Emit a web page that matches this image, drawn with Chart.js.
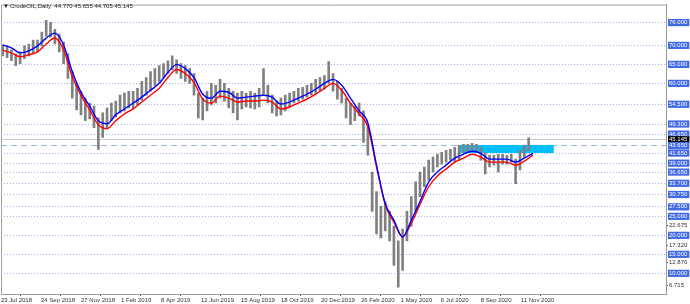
<!DOCTYPE html>
<html>
<head>
<meta charset="utf-8">
<script src="https://cdn.jsdelivr.net/npm/chart.js@4.4.1/dist/chart.umd.min.js"></script>
<style>
  html, body { margin: 0; padding: 0; background: #fff; }
  #wrap { width: 690px; height: 304px; }
</style>
</head>
<body>
<div id="wrap"><canvas id="myChart" width="690" height="304"></canvas></div>
<script>
const symbolName = "CrudeOIL,Daily";
const lastOHLC = [44.770, 45.655, 44.705, 45.145];

// date axis: label text and the trading-day index it sits on
const dateLabels = ["23 Jul 2018", "24 Sep 2018", "27 Nov 2018", "1 Feb 2019", "8 Apr 2019",
  "12 Jun 2019", "15 Aug 2019", "18 Oct 2019", "20 Dec 2019", "26 Feb 2020",
  "1 May 2020", "6 Jul 2020", "8 Sep 2020", "11 Nov 2020"];
const dateTickBars = [0, 46, 92, 138, 184, 230, 276, 322, 368, 414, 460, 506, 552, 598];

// weekly high / low (one entry per 5 trading days)
const weeklyHigh = [
  70.11, 69.85, 68.81, 67.77, 68.29, 69.85, 70.36, 71.40, 71.40, 73.47,
  76.58, 76.06, 74.25, 72.95, 70.88, 67.77, 63.11, 60.00, 57.93, 56.11,
  54.82, 54.04, 50.93, 52.23, 53.52, 54.82, 55.34, 56.89, 57.41, 57.93,
  57.93, 58.70, 60.52, 61.55, 63.11, 63.89, 64.66, 65.18, 65.96, 67.25,
  66.22, 65.18, 64.66, 63.89, 62.59, 57.41, 56.11, 57.93, 60.00, 59.48,
  61.04, 60.00, 58.70, 57.93, 57.41, 57.93, 57.41, 57.93, 57.41, 58.70,
  63.89, 59.48, 56.89, 55.34, 56.11, 56.89, 57.41, 57.93, 58.70, 58.96,
  59.48, 60.00, 61.04, 61.55, 62.07, 65.70, 62.59, 60.52, 58.70, 56.11,
  54.82, 54.04, 54.82, 52.74, 48.34, 36.68, 31.50, 27.61, 28.91, 26.32,
  22.43, 18.55, 21.65, 26.32, 30.20, 34.09, 36.68, 37.98, 39.79, 40.57,
  41.34, 41.86, 42.38, 42.64, 43.16, 43.68, 43.94, 43.94, 44.19, 43.94,
  43.16, 41.86, 41.09, 41.09, 41.34, 41.34, 41.09, 41.34, 40.05, 42.38,
  43.68, 45.66
];
const weeklyLow = [
  67.25, 66.74, 65.96, 64.66, 65.18, 66.48, 67.25, 67.77, 68.29, 69.85,
  72.44, 72.18, 70.36, 68.29, 65.18, 61.30, 56.11, 53.00, 51.71, 50.15,
  50.67, 48.34, 42.64, 45.75, 48.34, 50.15, 51.19, 52.23, 52.74, 53.52,
  53.26, 54.30, 55.60, 56.89, 57.93, 59.48, 60.52, 61.55, 62.59, 63.63,
  62.59, 61.30, 60.52, 60.00, 56.89, 50.93, 50.41, 52.74, 54.30, 54.82,
  56.11, 55.34, 53.52, 52.23, 50.41, 53.26, 53.78, 53.52, 53.26, 53.78,
  56.89, 54.82, 52.23, 51.45, 51.71, 52.74, 53.78, 54.82, 55.34, 55.85,
  56.37, 56.89, 57.41, 57.93, 58.45, 60.00, 57.93, 55.85, 54.82, 50.93,
  49.12, 50.15, 51.45, 44.45, 41.09, 26.32, 20.36, 19.32, 21.14, 18.55,
  12.07, 6.36, 10.77, 18.55, 22.43, 26.32, 30.20, 32.79, 34.61, 36.68,
  37.98, 38.75, 39.27, 39.79, 39.27, 39.79, 41.86, 41.86, 42.38, 41.86,
  39.79, 36.16, 37.98, 38.49, 36.68, 38.75, 38.75, 39.27, 33.57, 37.20,
  40.57, 42.38
];

// moving averages, one value every 2 weeks
const maHigh = [
  70.11, 69.33, 68.03, 68.55, 69.85, 71.92, 73.21, 70.11, 63.11, 57.67,
  54.04, 50.15, 49.38, 51.71, 53.26, 54.82, 56.37, 58.19, 60.00, 62.85,
  64.92, 63.89, 61.55, 57.15, 56.11, 57.93, 57.67, 56.11, 56.37, 56.63,
  56.89, 56.37, 54.56, 55.08, 56.11, 57.15, 58.45, 60.00, 61.04, 59.48,
  56.11, 52.74, 49.64, 38.49, 28.39, 23.99, 19.58, 23.99, 28.91, 34.09,
  36.68, 38.49, 40.31, 41.34, 42.12, 41.60, 40.05, 40.05, 40.05, 39.27,
  40.31, 41.60
];
const maLow = [
  68.68, 68.03, 67.00, 67.51, 68.29, 70.36, 71.92, 68.81, 61.81, 56.89,
  53.00, 49.12, 48.08, 50.15, 51.97, 53.26, 55.08, 56.89, 58.70, 61.55,
  63.63, 62.59, 60.26, 55.85, 54.82, 56.63, 56.11, 55.08, 55.34, 55.34,
  55.60, 55.08, 53.26, 53.78, 54.82, 55.85, 57.15, 58.70, 60.00, 58.19,
  54.82, 51.97, 48.60, 37.98, 28.13, 23.47, 19.58, 23.21, 28.13, 32.79,
  35.64, 37.46, 39.27, 40.31, 41.34, 40.57, 39.27, 39.27, 39.27, 38.49,
  39.53, 41.10
];

// price axis
const levels = [76, 70, 65, 60, 54.5, 49.3, 46.65, 43.65, 41.65, 39, 36.65, 33.7,
  30.75, 27.5, 25, 20, 15, 10];
const scaleMarks = [22.675, 17.32, 12.87, 6.715];
const currentPrice = 45.145;
const dashedLevel = 43.65;
const zoneBars = [526, 636];
const zoneRange = [41.65, 43.65];

const axisTicks = levels.concat(scaleMarks, [currentPrice]).sort((a, b) => b - a);

const fontFamily = "'Liberation Sans', 'DejaVu Sans', sans-serif";
Chart.defaults.font.family = fontFamily;
Chart.defaults.font.size = 6;

const tickValue = (c) => (c && c.tick ? c.tick.value : null);
const isLevel = (v) => levels.includes(v);

const framePlugin = {
  id: "frame",
  afterDraw(chart) {
    const a = chart.chartArea;
    const c = chart.ctx;
    c.save();
    c.strokeStyle = "#a0a0a0";
    c.lineWidth = 1;
    c.beginPath();
    c.moveTo(a.left + 0.5, a.bottom);
    c.lineTo(a.left + 0.5, a.top + 0.5);
    c.lineTo(a.right, a.top + 0.5);
    c.stroke();
    c.fillStyle = "#222";
    c.font = "6px " + fontFamily;
    c.textBaseline = "middle";
    c.fillText("\u25BC", 3, 6);
    c.fillText(symbolName + "  " + lastOHLC.map((v) => v.toFixed(3)).join(" "), 10, 6);
    c.restore();
  },
};

new Chart(document.getElementById("myChart"), {
  type: "bar",
  data: {
    datasets: [
      {
        type: "line",
        data: maHigh.map((v, j) => ({ x: 10 * j + 2, y: v })),
        borderColor: "#0000ff",
        borderWidth: 1.4,
        pointRadius: 0,
        cubicInterpolationMode: "monotone",
        order: 1,
      },
      {
        type: "line",
        data: maLow.map((v, j) => ({ x: 10 * j + 2, y: v })),
        borderColor: "#ff0000",
        borderWidth: 1.4,
        pointRadius: 0,
        cubicInterpolationMode: "monotone",
        order: 2,
      },
      {
        type: "bar",
        data: weeklyHigh.map((h, i) => ({ x: 5 * i + 2, y: [weeklyLow[i], h] })),
        backgroundColor: "#808080",
        barThickness: 2,
        order: 3,
      },
      {
        type: "line",
        data: zoneBars.map((b) => ({ x: b, y: zoneRange[1] })),
        fill: { value: zoneRange[0] },
        backgroundColor: "#00bfff",
        borderColor: "#00bfff",
        borderWidth: 1,
        pointRadius: 0,
        order: 4,
      },
    ],
  },
  options: {
    responsive: false,
    animation: false,
    layout: { padding: { left: 1, top: 0, right: 0, bottom: 0 } },
    plugins: { legend: { display: false }, tooltip: { enabled: false } },
    scales: {
      x: {
        type: "linear",
        min: 0,
        max: 765,
        offset: false,
        afterBuildTicks: (scale) => {
          scale.ticks = dateTickBars.map((v) => ({ value: v }));
        },
        afterFit: (scale) => {
          scale.height = 10;
        },
        grid: { drawOnChartArea: false, drawTicks: true, tickLength: 2, tickColor: "#555" },
        border: { display: true, color: "#9a9a9a" },
        ticks: {
          autoSkip: false,
          maxRotation: 0,
          minRotation: 0,
          align: "start",
          padding: 1,
          color: "#333",
          callback: (v, i) => dateLabels[i],
        },
      },
      y: {
        type: "linear",
        position: "right",
        min: 4.56,
        max: 80.73,
        afterBuildTicks: (scale) => {
          scale.ticks = axisTicks.map((v) => ({ value: v }));
        },
        afterFit: (scale) => {
          scale.width = 24;
        },
        grid: {
          drawTicks: true,
          tickLength: 2,
          lineWidth: 1,
          color: (c) => {
            const v = tickValue(c);
            if (v === currentPrice) return "#c8c8c8";
            if (isLevel(v)) return "#9fb2ee";
            return "rgba(0,0,0,0)";
          },
          tickColor: (c) => (isLevel(tickValue(c)) || tickValue(c) === currentPrice ? "rgba(0,0,0,0)" : "#555"),
        },
        border: {
          display: true,
          color: "#9a9a9a",
          dash: (c) => {
            const v = tickValue(c);
            if (v === dashedLevel) return [6, 4];
            if (isLevel(v)) return [1, 2];
            return [];
          },
        },
        ticks: {
          autoSkip: false,
          padding: 1,
          color: (c) => (isLevel(tickValue(c)) || tickValue(c) === currentPrice ? "#ffffff" : "#333"),
          showLabelBackdrop: (c) => isLevel(tickValue(c)) || tickValue(c) === currentPrice,
          backdropColor: (c) => (tickValue(c) === currentPrice ? "#000000" : "#4169e1"),
          backdropPadding: { left: 1, right: 2, top: 0, bottom: 0 },
          callback: (v) => v.toFixed(3),
        },
      },
    },
  },
  plugins: [framePlugin],
});
</script>
</body>
</html>
